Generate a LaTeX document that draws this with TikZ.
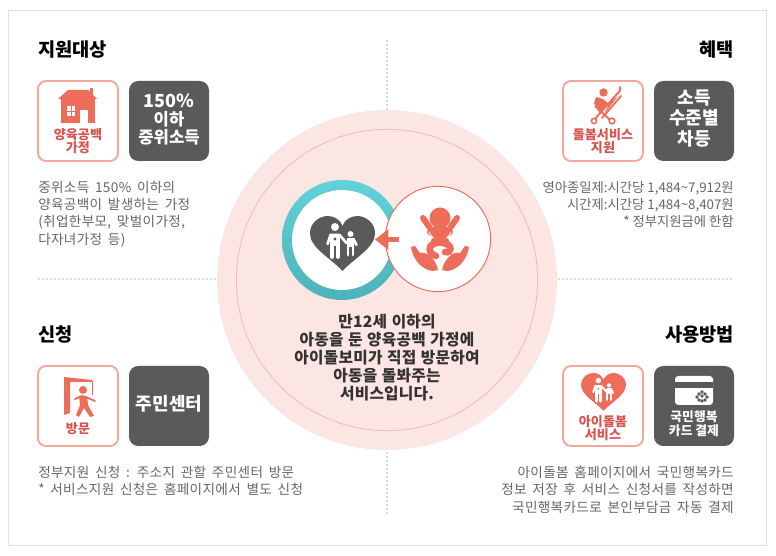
\documentclass[tikz,border=0pt]{standalone}
\usepackage{fontspec}
\setmainfont{Noto Sans CJK KR}
\newfontfamily\bodyfont[LetterSpace=2.5, WordSpace=1.7]{Noto Sans CJK KR}
\newfontfamily\centerfont[LetterSpace=1.5, WordSpace=1.2]{Noto Sans CJK KR}
\usetikzlibrary{arrows.meta}
\definecolor{redicon}{HTML}{EE6C5A}
\definecolor{redtext}{HTML}{D9534F}
\definecolor{boxline}{HTML}{F5A79C}
\definecolor{boxdark}{HTML}{5A5A5A}
\definecolor{softpink}{HTML}{FCE6E3}
\definecolor{bodygray}{HTML}{666666}
\definecolor{ringtop}{HTML}{5FD3D8}
\definecolor{ringbot}{HTML}{4FB2BA}
\tikzset{
	title/.style = {font=\fontsize{14}{16}\selectfont\bfseries, text=black, inner sep=0pt},
	bodytext/.style = {font=\bodyfont\fontsize{10.2}{12.9}\selectfont, text=bodygray, inner sep=0pt},
	iconbox/.style = {draw=boxline, line width=1.4pt, fill=white, rounded corners=6pt},
	darkbox/.style = {fill=boxdark, rounded corners=7pt},
	iconlabel/.style = {font=\fontsize{9.8}{9.8}\selectfont\bfseries, text=redtext, align=center, inner sep=0pt},
	darklabel/.style = {font=\fontsize{13}{15}\selectfont\bfseries, text=white, align=center, inner sep=0pt},
	dotline/.style = {black!14, line width=1.5pt, dash pattern=on 1.5pt off 1.5pt}
}
% heart with parents and child, #1 #2 centre, #3 scale, #4 heart, #5 figures
\newcommand{\famicon}[5]{
	\begin{scope}[shift={(#1,#2)}, scale=#3]
		\fill[#4] (0,31) .. controls (-12,18) and (-32,8) .. (-32.5,-6) .. controls (-33,-18) and (-22,-24) .. (-15,-24) .. controls (-8,-24) and (-2,-20) .. (0,-14) .. controls (2,-20) and (8,-24) .. (15,-24) .. controls (22,-24) and (33,-18) .. (32.5,-6) .. controls (32,8) and (12,18) .. (0,31) -- cycle;
		\fill[#5] (-7.5,-13) circle (4);
		\fill[#5] (8,-6) circle (3);
		\draw[#5, line width=#3*2pt, line cap=round, line join=round] (-15,4) -- (-12,-5) -- (-3,-5) -- (4,3) -- (11,-1) -- (14,5);
		\draw[#5, line width=#3*2.8pt, line cap=round] (-10.5,-4) -- (-10.5,17);
		\draw[#5, line width=#3*2.8pt, line cap=round] (-4.5,-4) -- (-4.5,17);
		\fill[#5] (-12,-5) rectangle (-3,6);
		\draw[#5, line width=#3*2.2pt, line cap=round] (5.5,0) -- (5.5,15);
		\draw[#5, line width=#3*2.2pt, line cap=round] (10.5,0) -- (10.5,15);
		\fill[#5] (4.5,-2) rectangle (11.5,7);
		\fill[#4] (-7.5,-1) circle (1.6);
	\end{scope}
}
\begin{document}
\begin{tikzpicture}[x=.75pt, y=-.75pt]
	\useasboundingbox (0,0) rectangle (776,556);
	\fill[white] (0,0) rectangle (776,556);
	\draw[black!12, line width=.7pt] (8,10) rectangle (766,545);
	\draw[dotline] (38,279) -- (734,279);
	\draw[dotline] (387,40) -- (387,515);

	% centre
	\node[circle, fill=softpink, minimum size=255pt, inner sep=0pt] (bigc) at (387,280) {};
	\node[circle, draw=boxline!80, line width=.6pt, minimum size=226pt, inner sep=0pt] (innerc) at (387,280) {};
	\node[circle, top color=ringtop, bottom color=ringbot, minimum size=90pt, inner sep=0pt] (ringc) at (342,240) {};
	\node[circle, fill=white, minimum size=75pt, inner sep=0pt] (ringin) at (342,240) {};
	\famicon{342.5}{240}{1}{boxdark}{white}
	\node[circle, draw=redicon, line width=.7pt, fill=white, minimum size=79pt, inner sep=0pt] (babyc) at (438,239) {};
	\coordinate (arrowfrom) at (399,239.5);
	\coordinate (arrowto) at (375,239.5);
	\draw[redicon, line width=3.8pt, -{Triangle[length=10pt, width=15pt]}] (arrowfrom) -- (arrowto);
	% baby
	\fill[redicon] (440,218) circle (10.5);
	\draw[redicon, line width=4.5pt, line cap=round] (430,228) -- (423,218);
	\draw[redicon, line width=4.5pt, line cap=round] (450,228) -- (457,218);
	\fill[redicon] (440,232) ellipse (13 and 6);
	\draw[white, line width=.7pt] (429,232) .. controls (432,242) and (448,242) .. (451,232);
	\fill[redicon] (440,241) ellipse (9 and 5);
	\draw[redicon, line width=5pt, line cap=round] (437,243) .. controls (427,244) and (428,254) .. (436,256);
	\draw[redicon, line width=5pt, line cap=round] (443,243) .. controls (453,244) and (452,254) .. (445,252);
	\fill[redicon] (411,247) -- (415,246) -- (420,253) .. controls (428,251) and (436,260) .. (438,270) -- (433,271) .. controls (422,270) and (413,260) .. cycle;
	\fill[redicon] (469,247) -- (465,246) -- (460,253) .. controls (452,251) and (444,260) .. (442,270) -- (447,271) .. controls (458,270) and (467,260) .. cycle;
	\node[font=\centerfont\fontsize{11.8}{13.5}\selectfont\bfseries, text=black!80, align=center, inner sep=0pt] (centertext) at (387,357.5) {만12세 이하의\\아동을 둔 양육공백 가정에\\아이돌보미가 직접 방문하여\\아동을 돌봐주는\\서비스입니다.};

	% top left
	\node[title, anchor=west] (titleA) at (38,49.5) {지원대상};
	\draw[iconbox] (38,81) rectangle (118,161);
	\fill[redicon] (90,88) rectangle (93,98);
	\fill[redicon] (58,99) -- (68,90) -- (88,90) -- (97,99) -- cycle;
	\fill[redicon] (61,99) rectangle (95,123);
	\fill[white] (80,110) rectangle (88,123);
	\fill[white] (67,106) rectangle (75,116);
	\draw[redicon, line width=.6pt] (71,106) -- (71,116) (67,111) -- (75,111);
	\node[iconlabel] (labelA) at (78,141.5) {양육공백\\가정};
	\fill[darkbox] (129,81) rectangle (209,161);
	\node[darklabel, font=\fontsize{12.5}{13.5}\selectfont\bfseries] (darkA) at (169,119.5) {{\fontsize{13.5}{13.5}\selectfont 150\%}\\이하\\중위소득};
	\node[bodytext, anchor=north west, align=left] (bodyA) at (38,181) {중위소득 150\% 이하의\\양육공백이 발생하는 가정\\(취업한부모, 맞벌이가정,\\다자녀가정 등)};

	% top right
	\node[title, anchor=east] (titleB) at (734,49.5) {혜택};
	\draw[iconbox] (563,81) rectangle (643,161);
	\fill[redicon] (603.5,92.5) circle (4.2);
	\draw[redicon, line width=1.4pt, line cap=round] (620,87) .. controls (621,91) and (619,92) .. (616,95) -- (594,120);
	\draw[redicon, line width=1.4pt, line cap=round] (621,96) -- (602,118);
	\draw[redicon, line width=1.4pt] (595,106) -- (610,120);
	\fill[redicon] (596,97) -- (603,99) -- (609,104) -- (600,114) -- (594,103) -- cycle;
	\fill[redicon] (610,102) -- (618,96) -- (604,114) -- cycle;
	\draw[redicon, line width=1.2pt, fill=white] (594,121) circle (2.6);
	\draw[redicon, line width=1.2pt, fill=white] (612,121) circle (2.8);
	\node[iconlabel] (labelB) at (603,141.5) {돌봄서비스\\지원};
	\fill[darkbox] (654,81) rectangle (734,161);
	\node[darklabel, font=\fontsize{13.5}{15.5}\selectfont\bfseries] (darkB) at (694,118.5) {소득\\수준별\\차등};
	\node[bodytext, anchor=north east, align=right, font=\fontsize{10}{12.9}\selectfont] (bodyB) at (734,181) {영아종일제:시간당 1,484\textasciitilde7,912원\\시간제:시간당 1,484\textasciitilde8,407원\\* 정부지원금에 한함};

	% bottom left
	\node[title, anchor=west] (titleC) at (38,334.5) {신청};
	\draw[iconbox] (38,366) rectangle (118,446);
	\fill[redicon] (64,377) -- (92,380) -- (92,382) -- (70,382) -- (70,413) -- (64,415) -- cycle;
	\draw[redicon, line width=.4pt] (92,381) -- (92,395);
	\fill[redicon] (83,390) circle (4);
	\draw[redicon, line width=1.4pt, line cap=round, line join=round] (75,399) -- (82,396) -- (88,398) -- (95,401);
	\fill[redicon] (79,396) -- (87,396) -- (88,405) -- (94,416) -- (90,417) -- (84,408) -- (79,417) -- (76,415) -- (80,405) -- cycle;
	\node[iconlabel] (labelC) at (78,429) {방문};
	\fill[darkbox] (129,366) rectangle (209,446);
	\node[darklabel, font=\fontsize{13.5}{15}\selectfont\bfseries] (darkC) at (169,404) {주민센터};
	\node[bodytext, anchor=north west, align=left] (bodyC) at (38,466) {정부지원 신청 : 주소지 관할 주민센터 방문\\* 서비스지원 신청은 홈페이지에서 별도 신청};

	% bottom right
	\node[title, anchor=east] (titleD) at (734,334.5) {사용방법};
	\draw[iconbox] (563,366) rectangle (643,446);
	\famicon{603.5}{389.5}{.69}{redicon}{white}
	\node[iconlabel] (labelD) at (603,428.5) {아이돌봄\\서비스};
	\fill[darkbox] (654,366) rectangle (734,446);
	\fill[white, rounded corners=2.5pt] (675,376) rectangle (713,405);
	\fill[boxdark] (675,382) rectangle (713,388);
	\foreach \ex/\ey in {702/392, 699/394, 705/394, 697/397, 702/396, 707/397, 699/400, 705/400, 702/401}
		\fill[boxdark] (\ex,\ey) circle (1.8);
	\node[darklabel, font=\fontsize{9.6}{10.4}\selectfont\bfseries] (darkD) at (694,423.5) {국민행복\\카드 결제};
	\node[bodytext, anchor=north east, align=right] (bodyD) at (734,466) {아이돌봄 홈페이지에서 국민행복카드\\정보 저장 후 서비스 신청서를 작성하면\\국민행복카드로 본인부담금 자동 결제};
\end{tikzpicture}
\end{document}
